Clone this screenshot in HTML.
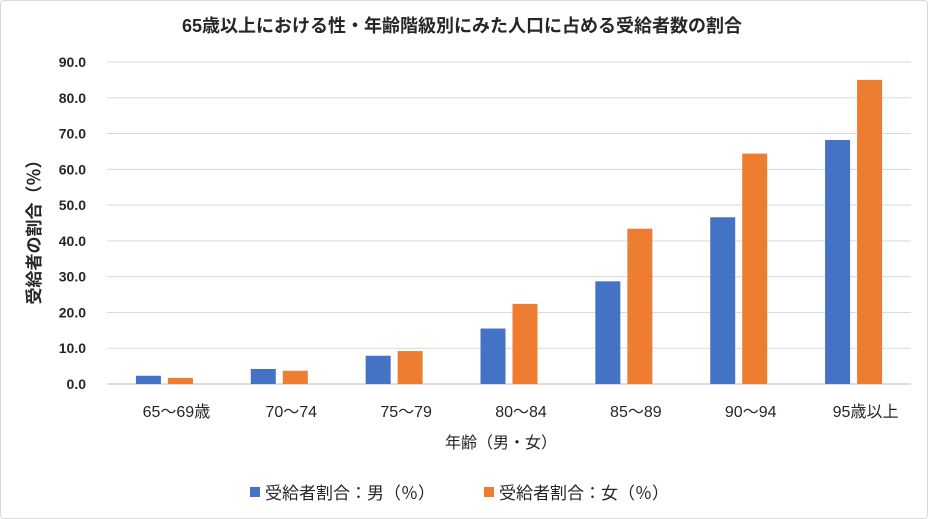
<!DOCTYPE html>
<html><head><meta charset="utf-8"><style>
html,body{margin:0;padding:0;background:#fff;}
body{width:928px;height:519px;overflow:hidden;font-family:"Liberation Sans","Noto Sans CJK JP",sans-serif;}
#frame{position:absolute;left:0;top:0;width:926px;height:517px;border:1px solid #d9d9d9;border-radius:4px;}
</style></head><body>
<div id="frame"></div>
<svg id="chart" width="928" height="519" style="position:absolute;left:0;top:0"></svg>
<script>
const categories=["65～69歳","70～74","75～79","80～84","85～89","90～94","95歳以上"];
const maleValues=[2.3,4.2,7.9,15.5,28.7,46.6,68.2];
const femaleValues=[1.7,3.7,9.2,22.4,43.4,64.4,85.0];
const yTicks=[0,10,20,30,40,50,60,70,80,90];
const seriesNames=["受給者割合：男（％）","受給者割合：女（％）"];

const svg=document.getElementById('chart');
const NS="http://www.w3.org/2000/svg";
const plotL=107,plotR=911,plotTop=62,plotBot=384,yMax=90;
const band=(plotR-plotL)/categories.length;
function y(v){return plotBot-(v/yMax)*(plotBot-plotTop);}
function xc(i){return plotL+band*(i+0.5);}
function mk(tag,attrs,name,text){const e=document.createElementNS(NS,tag);for(const k in attrs)e.setAttribute(k,attrs[k]);


if(text!==undefined)e.textContent=text;svg.appendChild(e);return e;}
const font='"Liberation Sans","Noto Sans CJK JP",sans-serif';
mk('text',{x:462,y:32,'text-anchor':'middle','font-size':18,'font-weight':'bold',fill:'#262626','font-family':font},'chart-title','65歳以上における性・年齢階級別にみた人口に占める受給者数の割合');
yTicks.forEach(t=>{
  mk('line',{x1:plotL,x2:plotR,y1:y(t),y2:y(t),stroke:t===0?'#bfbfbf':'#d9d9d9','stroke-width':1},'gridline-'+t);
  mk('text',{x:86,y:y(t)+5,'text-anchor':'end','font-size':14,'font-weight':'bold',fill:'#262626','font-family':font},'y-tick-label',t.toFixed(1));
});
const bw=25,gap=7;
categories.forEach((c,i)=>{
  const cx=xc(i);
  mk('rect',{x:cx-gap/2-bw,y:y(maleValues[i]),width:bw,height:plotBot-y(maleValues[i]),fill:'#4472c4'},'bar-male-'+i);
  mk('rect',{x:cx+gap/2,y:y(femaleValues[i]),width:bw,height:plotBot-y(femaleValues[i]),fill:'#ed7d31'},'bar-female-'+i);
  mk('text',{x:cx+12,y:417,'text-anchor':'middle','font-size':16,fill:'#262626','font-family':font},'x-tick-label',c);
});
mk('text',{x:501,y:448,'text-anchor':'middle','font-size':16,fill:'#262626','font-family':font},'x-axis-title','年齢（男・女）');
mk('text',{x:0,y:0,'text-anchor':'middle','font-size':17,'font-weight':'600',fill:'#262626','font-family':font,transform:'translate(40,228) rotate(-90)'},'y-axis-title','受給者の割合（％）');
mk('rect',{x:250,y:487,width:10,height:10,fill:'#4472c4'},'legend-swatch-male');
mk('text',{x:265,y:499,'font-size':17,fill:'#262626','font-family':font},'legend-entry-male',seriesNames[0]);
mk('rect',{x:484,y:487,width:10,height:10,fill:'#ed7d31'},'legend-swatch-female');
mk('text',{x:499,y:499,'font-size':17,fill:'#262626','font-family':font},'legend-entry-female',seriesNames[1]);
</script>
</body></html>
